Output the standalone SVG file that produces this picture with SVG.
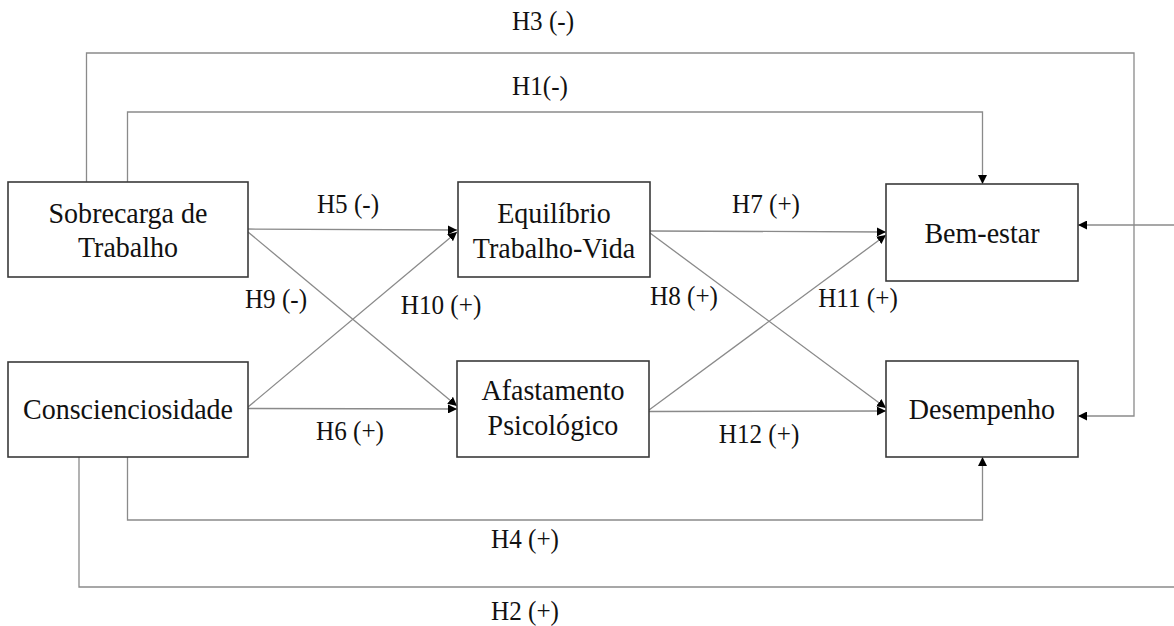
<svg xmlns="http://www.w3.org/2000/svg" width="1174" height="626" viewBox="0 0 1174 626">
<style>
.box{fill:#fff;stroke:#3a3a3a;stroke-width:1.6}
.node{font-family:"Liberation Serif","Times New Roman",serif;font-size:29.5px;fill:#111;text-anchor:middle}
.lbl{font-family:"Liberation Serif","Times New Roman",serif;font-size:26.5px;fill:#111;text-anchor:middle}
.ln{fill:none;stroke:#8a8a8a;stroke-width:1.3}
</style>
<defs>
<marker id="ah" viewBox="0 0 10 10" refX="10" refY="5" markerWidth="9" markerHeight="9" markerUnits="userSpaceOnUse" orient="auto">
<path d="M0,0 L10,5 L0,10 Z" fill="#000"/>
</marker>
</defs>
<g id="connectors">
<path class="ln" d="M86.5,182 V53 H1134 V416 H1078" marker-end="url(#ah)"/>
<path class="ln" d="M127.5,182 V112 H982.5 V184" marker-end="url(#ah)"/>
<path class="ln" d="M127.5,457 V520 H982.5 V457" marker-end="url(#ah)"/>
<path class="ln" d="M79,457 V587 H1180"/>
<path class="ln" d="M1180,225 H1078" marker-end="url(#ah)"/>
<line class="ln" x1="248" y1="229" x2="457" y2="230" marker-end="url(#ah)"/>
<line class="ln" x1="248" y1="408.5" x2="457" y2="409" marker-end="url(#ah)"/>
<line class="ln" x1="248" y1="232" x2="457" y2="406" marker-end="url(#ah)"/>
<line class="ln" x1="248" y1="407" x2="457" y2="232" marker-end="url(#ah)"/>
<line class="ln" x1="650" y1="231" x2="886" y2="232" marker-end="url(#ah)"/>
<line class="ln" x1="649" y1="411.5" x2="886" y2="411" marker-end="url(#ah)"/>
<line class="ln" x1="650" y1="233" x2="886" y2="408" marker-end="url(#ah)"/>
<line class="ln" x1="649" y1="410" x2="886" y2="235" marker-end="url(#ah)"/>
</g>
<g id="labels">
<text class="lbl" transform="translate(543,30) scale(0.95,1)">H3 (-)</text>
<text class="lbl" transform="translate(540,95) scale(0.95,1)">H1(-)</text>
<text class="lbl" transform="translate(348,213) scale(0.95,1)">H5 (-)</text>
<text class="lbl" transform="translate(766,213) scale(0.95,1)">H7 (+)</text>
<text class="lbl" transform="translate(276,308) scale(0.95,1)">H9 (-)</text>
<text class="lbl" transform="translate(441,314) scale(0.95,1)">H10 (+)</text>
<text class="lbl" transform="translate(684,305) scale(0.95,1)">H8 (+)</text>
<text class="lbl" transform="translate(858,307) scale(0.95,1)">H11 (+)</text>
<text class="lbl" transform="translate(350,440) scale(0.95,1)">H6 (+)</text>
<text class="lbl" transform="translate(759,443) scale(0.95,1)">H12 (+)</text>
<text class="lbl" transform="translate(525,548) scale(0.95,1)">H4 (+)</text>
<text class="lbl" transform="translate(525,620) scale(0.95,1)">H2 (+)</text>
</g>
<g id="sobrecarga">
<rect class="box" x="8" y="182" width="240" height="95"/>
<text class="node" transform="translate(128,223) scale(0.95,1)">Sobrecarga de</text>
<text class="node" transform="translate(128,256.5) scale(0.95,1)">Trabalho</text>
</g>
<g id="conscienciosidade">
<rect class="box" x="8" y="362" width="240" height="95"/>
<text class="node" transform="translate(128,419) scale(0.95,1)">Conscienciosidade</text>
</g>
<g id="equilibrio">
<rect class="box" x="458" y="182" width="192" height="95"/>
<text class="node" transform="translate(554,223) scale(0.95,1)">Equilíbrio</text>
<text class="node" transform="translate(554,258) scale(0.95,1)">Trabalho-Vida</text>
</g>
<g id="afastamento">
<rect class="box" x="457" y="361" width="192" height="96"/>
<text class="node" transform="translate(553,400) scale(0.95,1)">Afastamento</text>
<text class="node" transform="translate(553,435) scale(0.95,1)">Psicológico</text>
</g>
<g id="bemestar">
<rect class="box" x="886" y="184" width="192" height="97"/>
<text class="node" transform="translate(982,243) scale(0.95,1)">Bem-estar</text>
</g>
<g id="desempenho">
<rect class="box" x="886" y="361" width="192" height="96"/>
<text class="node" transform="translate(982,419) scale(0.95,1)">Desempenho</text>
</g>
</svg>
